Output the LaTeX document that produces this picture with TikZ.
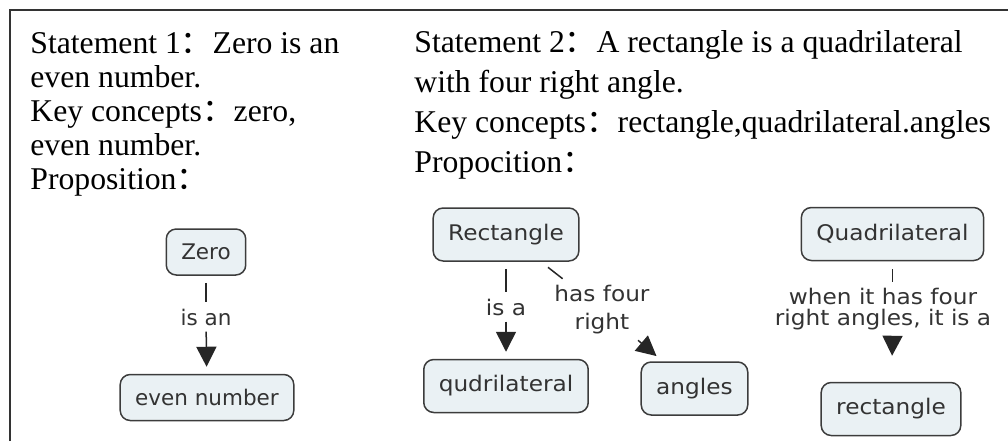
\documentclass[tikz,border=0pt]{standalone}
\usepackage{fontspec}
\setmainfont{Liberation Serif}
\newfontfamily\cjk{Noto Sans CJK SC}
\newfontfamily\cmapfont{DejaVu Sans}
\newfontfamily\cmapwide[FakeStretch=1.08]{DejaVu Sans}
\usetikzlibrary{arrows.meta}
\definecolor{boxfill}{HTML}{EAF1F4}
\definecolor{boxline}{HTML}{3C3C3C}
\definecolor{cmaptext}{HTML}{333333}
\newcommand{\fwcolon}{{\cjk ：}}

\begin{document}
\begin{tikzpicture}[x=0.5pt,y=-0.5pt,>={Triangle[length=10pt,width=10pt]},
  stmt/.style={anchor=base west,inner sep=0pt,align=left},
  concept/.style={draw=boxline,line width=0.75pt,fill=boxfill,rounded corners=5pt,
    text=cmaptext,inner xsep=7.5pt,inner ysep=0pt},
  linkphrase/.style={inner sep=3pt,text=cmaptext,align=center},
  leftmap/.style={font=\cmapfont\fontsize{10.75}{13}\selectfont,minimum height=23pt},
  rightmap/.style={font=\cmapwide\fontsize{10.75}{13}\selectfont,minimum height=26.5pt},
  tolink/.style={draw=black!85,line width=0.75pt,shorten <=3.5pt},
  fromlink/.style={draw=black!85,line width=0.75pt,->,shorten >=3.5pt}]
\useasboundingbox (0,0) rectangle (1008,441);
\draw[line width=1pt,black!80] (9.5,441) -- (9.5,10) -- (1008,10);

% statements, placed by the baseline of their last line
\node[stmt,font=\fontsize{15.85}{17}\selectfont] (stmtA) at (30,189)
  {Statement 1\fwcolon Zero is an\\even number.\\Key concepts\fwcolon zero,\\even number.\\Proposition\fwcolon};
\node[stmt,font=\fontsize{15.85}{20}\selectfont] (stmtB) at (414,172)
  {Statement 2\fwcolon A rectangle is a quadrilateral\\with four right angle.\\Key concepts\fwcolon rectangle,quadrilateral.angles\\Propocition\fwcolon};

\node[concept,leftmap] (zero) at (206,252) {Zero};
\node[linkphrase,leftmap,minimum height=0pt] (isan) at (206,317) {is an};
\node[concept,leftmap] (even) at (207,397.5) {even number};
\draw[tolink] (zero) -- (isan);
\draw[fromlink] (isan) -- (even);

\node[concept,rightmap] (rect) at (506,234.5) {Rectangle};
\node[linkphrase,rightmap,minimum height=0pt] (isa) at (506,307) {is a};
\node[concept,rightmap] (qud) at (506,386) {qudrilateral};
\node[linkphrase,rightmap,minimum height=0pt,font=\cmapwide\fontsize{10.75}{14}\selectfont] (hasfour) at (602,309.5) {has four\\right};
\node[concept,rightmap] (angles) at (694.5,388.5) {angles};
\draw[tolink] (rect) -- (isa);
\draw[fromlink] (isa) -- (qud);
\draw[tolink,shorten <=4.5pt] (rect) -- (hasfour);
\draw[fromlink,shorten >=4pt] (hasfour) -- (angles);

\node[concept,rightmap] (quad) at (892.5,234) {Quadrilateral};
\node[linkphrase,rightmap,minimum height=0pt,font=\cmapwide\fontsize{10.75}{10.5}\selectfont] (whenit) at (883,309) {when it has four\\right angles, it is a};
\node[concept,rightmap] (rectb) at (891,409) {rectangle};
\draw[tolink,shorten <=4pt] (quad) -- (quad |- whenit.north);
\draw[fromlink,shorten >=13pt] (quad |- whenit.south) -- (rectb);
\end{tikzpicture}
\end{document}
